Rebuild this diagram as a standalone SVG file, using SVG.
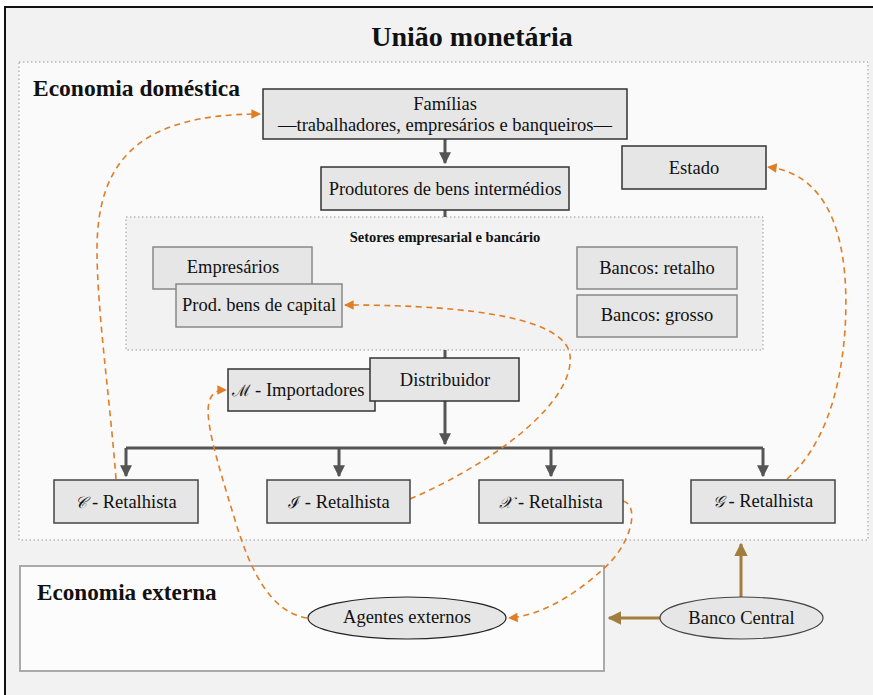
<svg xmlns="http://www.w3.org/2000/svg" width="873" height="695" viewBox="0 0 873 695">
<style>
text{font-family:"Liberation Serif","DejaVu Serif",serif;fill:#111}
.lbl{font-size:18.5px;text-anchor:middle}
.box{fill:#e6e6e6;stroke:#333;stroke-width:1.5}
.lbox{fill:#e6e6e6;stroke:#888;stroke-width:1.5}
.rbox{fill:#e6e6e6;stroke:#444;stroke-width:1.5}
.dark{fill:none;stroke:#555;stroke-width:3}
.dash{fill:none;stroke:#e07d25;stroke-width:1.6;stroke-dasharray:6 4.5}
.brown{fill:none;stroke:#a17d3e;stroke-width:3}
.h{font-weight:bold}
.m{font-family:"DejaVu Serif","Noto Sans","Liberation Serif",serif;font-style:italic;font-size:16px}
</style>
<defs>
<marker id="ad" viewBox="0 0 10 10" refX="9" refY="5" markerWidth="4" markerHeight="4.5" orient="auto" markerUnits="strokeWidth"><path d="M0,0 L10,5 L0,10 z" fill="#555"/></marker>
<marker id="ao" viewBox="0 0 10 10" refX="9" refY="5" markerWidth="7" markerHeight="6" orient="auto" markerUnits="strokeWidth"><path d="M0,0 L10,5 L0,10 z" fill="#e07d25"/></marker>
<marker id="ab" viewBox="0 0 10 10" refX="9" refY="5" markerWidth="4.5" markerHeight="4.5" orient="auto" markerUnits="strokeWidth"><path d="M0,0 L10,5 L0,10 z" fill="#a17d3e"/></marker>
</defs>
<rect x="0" y="0" width="873" height="695" fill="#ffffff"/>
<rect x="5" y="7" width="880" height="700" fill="#f2f2f2" stroke="#111" stroke-width="2"/>
<text x="472" y="46" font-size="28" class="h" text-anchor="middle">União monetária</text>
<g id="domestica">
<rect x="19" y="62" width="849" height="478" fill="#fafafa" stroke="#999" stroke-width="1" stroke-dasharray="1.5 2.5"/>
<text x="33" y="96" font-size="23.5" class="h">Economia doméstica</text>
</g>
<g id="setores">
<rect x="126" y="217" width="637" height="133" fill="#f2f2f2" stroke="#999" stroke-width="1" stroke-dasharray="1.5 2.5"/>
<text x="445" y="242" font-size="14.5" class="h" text-anchor="middle">Setores empresarial e bancário</text>
</g>
<g id="externa">
<rect x="20" y="566" width="584" height="105" fill="#fcfcfc" stroke="#aaa" stroke-width="2"/>
<text x="37" y="600" font-size="23.2" class="h">Economia externa</text>
</g>
<g id="connectors">
<path class="dark" d="M445,139 V163" marker-end="url(#ad)"/>
<path class="dark" d="M445,210 V217"/>
<path class="dark" d="M445,350 V358"/>
<path class="dark" d="M445,401 V444" marker-end="url(#ad)"/>
<path class="dark" d="M126,448 H763"/>
<path class="dark" d="M126,448 V476" marker-end="url(#ad)"/>
<path class="dark" d="M339,448 V476" marker-end="url(#ad)"/>
<path class="dark" d="M551,448 V476" marker-end="url(#ad)"/>
<path class="dark" d="M763,448 V476" marker-end="url(#ad)"/>
<path class="brown" d="M660,618 H609" marker-end="url(#ab)"/>
<path class="brown" d="M741,597 V544" marker-end="url(#ab)"/>
<path class="dash" d="M116,479 C110,400 97,310 97,250 C97,160 140,114 260,114" marker-end="url(#ao)"/>
<path class="dash" d="M410,499 C500,460 575,400 570,355 C565,320 480,305 345,305" marker-end="url(#ao)"/>
<path class="dash" d="M623,501 C640,505 632,545 602,570 C575,595 540,616 509,618" marker-end="url(#ao)"/>
<path class="dash" d="M307,618 C270,612 250,570 235,520 C215,455 205,420 209,402 C212,392 218,390 226,390" marker-end="url(#ao)"/>
<path class="dash" d="M787,479 C820,450 840,400 845,330 C850,250 835,175 768,167" marker-end="url(#ao)"/>
</g>
<g id="familias">
<rect class="box" x="263" y="89" width="364" height="50"/>
<text class="lbl" x="445" y="110">Famílias</text>
<text class="lbl" x="445" y="131">—trabalhadores, empresários e banqueiros—</text>
</g>
<g id="produtores">
<rect class="box" x="321" y="167" width="248" height="43"/>
<text class="lbl" x="445" y="195">Produtores de bens intermédios</text>
</g>
<g id="estado">
<rect class="box" x="622" y="146" width="144" height="43"/>
<text class="lbl" x="694" y="174">Estado</text>
</g>
<g id="empresarios">
<rect class="lbox" x="153" y="247" width="159" height="42"/>
<text class="lbl" x="233" y="273">Empresários</text>
</g>
<g id="prodcapital">
<rect class="lbox" x="176" y="284" width="166" height="43"/>
<text class="lbl" x="259" y="311">Prod. bens de capital</text>
</g>
<g id="bancos-retalho">
<rect class="lbox" x="577" y="247" width="160" height="42"/>
<text class="lbl" x="657" y="274">Bancos: retalho</text>
</g>
<g id="bancos-grosso">
<rect class="lbox" x="577" y="295" width="160" height="42"/>
<text class="lbl" x="657" y="321">Bancos: grosso</text>
</g>
<g id="importadores">
<rect class="box" x="228" y="369" width="147" height="42"/>
<text x="232" y="396" font-size="18.5"><tspan class="m">ℳ</tspan> - Importadores</text>
</g>
<g id="distribuidor">
<rect class="box" x="370" y="358" width="149" height="43"/>
<text class="lbl" x="445" y="386">Distribuidor</text>
</g>
<g id="c-retalhista">
<rect class="rbox" x="54" y="480" width="144" height="43"/>
<text class="lbl" x="126" y="508"><tspan class="m">𝒞</tspan> - Retalhista</text>
</g>
<g id="i-retalhista">
<rect class="rbox" x="267" y="480" width="143" height="43"/>
<text class="lbl" x="339" y="508"><tspan class="m">ℐ</tspan> - Retalhista</text>
</g>
<g id="x-retalhista">
<rect class="rbox" x="479" y="480" width="144" height="43"/>
<text class="lbl" x="551" y="508"><tspan class="m">𝒳</tspan> - Retalhista</text>
</g>
<g id="g-retalhista">
<rect class="rbox" x="691" y="480" width="144" height="43"/>
<text class="lbl" x="763" y="507"><tspan class="m">𝒢</tspan> - Retalhista</text>
</g>
<g id="agentes">
<ellipse cx="407" cy="618" rx="99" ry="21" fill="#e6e6e6" stroke="#222" stroke-width="1.2"/>
<text class="lbl" x="407" y="623">Agentes externos</text>
</g>
<g id="banco-central">
<ellipse cx="741.5" cy="618" rx="81.5" ry="21" fill="#e6e6e6" stroke="#444" stroke-width="1.2"/>
<text class="lbl" x="741.5" y="624">Banco Central</text>
</g>
</svg>
